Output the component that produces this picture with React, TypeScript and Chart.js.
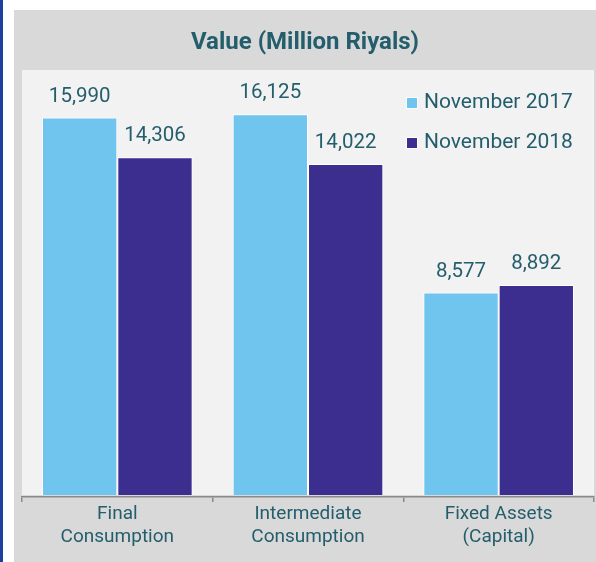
import React, { useEffect, useRef } from "react";
import { Chart, registerables } from "chart.js";

Chart.register(...registerables);

const categories: string[][] = [
  ["Final", "Consumption"],
  ["Intermediate", "Consumption"],
  ["Fixed Assets", "(Capital)"],
];
const seriesNames = ["November 2017", "November 2018"];
const values2017 = [15990, 16125, 8577];
const values2018 = [14306, 14022, 8892];
const titleText = "Value (Million Riyals)";

const LIGHT = "#70c5ee";
const DARK = "#3b2e8f";
const TEXT = "#245e6c";
const FONT = "Roboto";

const decorPlugin = {
  id: "decor",
  beforeDraw(chart: any) {
    const { ctx, width, height, chartArea, scales } = chart;
    ctx.save();
    ctx.fillStyle = "#ffffff";
    ctx.fillRect(0, 0, width, height);
    ctx.fillStyle = "#1f3fa0";
    ctx.fillRect(0, 0, 3, height);
    ctx.fillStyle = "#d9d9d9";
    ctx.fillRect(14, 10, width - 14, height - 10);
    const zeroY = scales.y.getPixelForValue(0);
    ctx.fillStyle = "#f2f2f2";
    ctx.fillRect(chartArea.left, chartArea.top, chartArea.right - chartArea.left, zeroY - chartArea.top);
    ctx.fillStyle = TEXT;
    ctx.font = `bold 24px ${FONT}`;
    ctx.textAlign = "center";
    ctx.textBaseline = "middle";
    ctx.fillText(titleText, (14 + width) / 2, 43);
    ctx.restore();
  },
  afterDatasetsDraw(chart: any) {
    const { ctx, chartArea } = chart;
    ctx.save();
    ctx.fillStyle = TEXT;
    ctx.font = `20.5px ${FONT}`;
    ctx.textAlign = "center";
    ctx.textBaseline = "middle";
    chart.data.datasets.forEach((ds: any, di: number) => {
      const meta = chart.getDatasetMeta(di);
      meta.data.forEach((el: any, i: number) => {
        const v = ds.data[i] as number;
        ctx.fillText(v.toLocaleString("en-US"), el.x, el.y - 21);
      });
    });
    // legend
    ctx.textAlign = "left";
    ctx.font = `21px ${FONT}`;
    chart.data.datasets.forEach((ds: any, di: number) => {
      const y = chartArea.top + 33 + di * 40;
      const x = chartArea.right - 187;
      ctx.fillStyle = "#ffffff";
      ctx.fillRect(x - 1, y - 6, 12, 12);
      ctx.fillStyle = ds.backgroundColor;
      ctx.fillRect(x, y - 5, 10, 10);
      ctx.fillStyle = TEXT;
      ctx.fillText(ds.label, x + 17, y);
    });
    ctx.restore();
  },
};

export default function App() {
  const ref = useRef<HTMLCanvasElement>(null);
  useEffect(() => {
    if (!ref.current) return;
    const chart = new Chart(ref.current, {
      type: "bar",
      data: {
        labels: categories,
        datasets: [
          {
            label: seriesNames[0],
            data: values2017,
            backgroundColor: LIGHT,
            borderColor: "#ffffff",
            borderWidth: 1,
            categoryPercentage: 0.79,
            barPercentage: 1,
          },
          {
            label: seriesNames[1],
            data: values2018,
            backgroundColor: DARK,
            borderColor: "#ffffff",
            borderWidth: 1,
            categoryPercentage: 0.79,
            barPercentage: 1,
          },
        ],
      },
      options: {
        responsive: false,
        animation: false,
        layout: { padding: { left: 22, right: 2, top: 70, bottom: 0 } },
        plugins: {
          legend: { display: false },
          title: { display: false },
          tooltip: { enabled: false },
        },
        scales: {
          y: { display: false, min: -85, max: 18000 },
          x: {
            afterFit(scale: any) {
              scale.height = 65;
            },
            grid: {
              display: true,
              offset: true,
              drawOnChartArea: false,
              drawTicks: true,
              tickLength: 5,
              color: "#8a8a8a",
              lineWidth: 1.5,
            },
            border: { display: true, color: "#8a8a8a", width: 1.5 },
            ticks: {
              color: TEXT,
              padding: 1,
              font: { family: FONT, size: 19, lineHeight: 1.2 },
              maxRotation: 0,
              autoSkip: false,
            },
          },
        },
      },
      plugins: [decorPlugin],
    });
    return () => chart.destroy();
  }, []);
  return (
    <div style={{ position: "absolute", left: 0, top: 0, width: 596, height: 562 }}>
      <canvas ref={ref} width={596} height={562} />
    </div>
  );
}
